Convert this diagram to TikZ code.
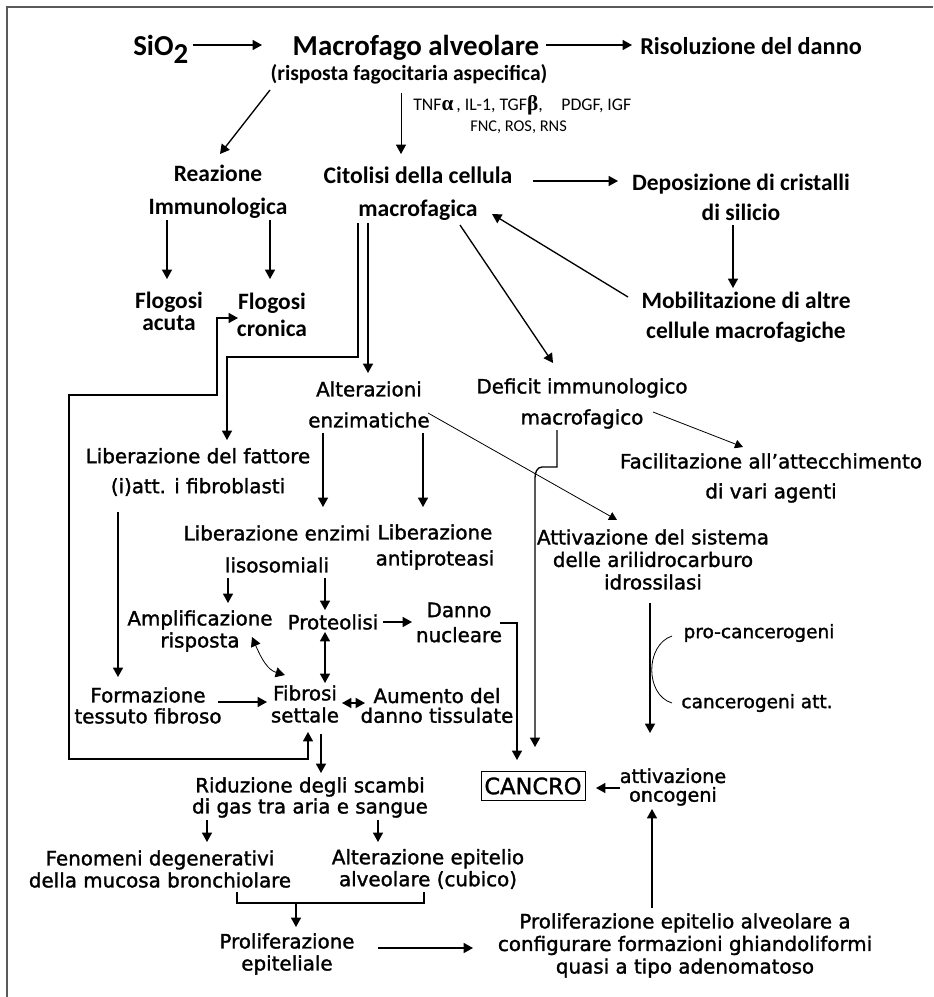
\documentclass[tikz,border=0pt]{standalone}
\usepackage{fontspec}
\setmainfont{DejaVu Sans}[FakeBold=1.5]
\newfontfamily\calf{Carlito}
\newfontfamily\grkf{Liberation Serif}
\usetikzlibrary{arrows.meta}
\begin{document}
\begin{tikzpicture}[x=0.75pt,y=-0.75pt,
  T/.style 2 args={font=\calf\bfseries\fontsize{#1}{#2}\selectfont,align=center,inner sep=0pt},
  L/.style 2 args={font=\fontsize{#1}{#2}\selectfont,align=center,inner sep=0pt},
  S/.style={font=\calf\fontsize{12.3}{12.3}\selectfont,inner sep=0pt},
  arr/.style={line width=1pt,-{Triangle[width=7.5pt,length=7pt]}},
  darr/.style={line width=1pt,{Triangle[width=7.5pt,length=7pt]}-{Triangle[width=7.5pt,length=7pt]}},
  tarr/.style={line width=0.6pt,-{Triangle[width=6.5pt,length=6pt]}},
  ln/.style={line width=1pt},
  tln/.style={line width=0.6pt}]
\useasboundingbox (0,0) rectangle (933,997);
\draw[line width=1.5pt,black!65] (7,997) -- (7,7) -- (933,7);

% top part
\node[T={21.7}{26},anchor=base west] (sio) at (133,55) {SiO\raisebox{-0.3em}{2}};
\node[T={21.7}{26},anchor=base] (mac) at (416,55) {Macrofago alveolare};
\node[T={18.2}{22},anchor=base] (ris) at (751,54) {Risoluzione del danno};
\node[T={16.2}{20}] (risp) at (409,74) {(risposta fagocitaria aspecifica)};
\node[S,font=\calf\fontsize{13.3}{13.3}\selectfont,anchor=west] (tnf) at (413,105) {TNF{\grkf\bfseries\fontsize{16}{16}\selectfont α}\,, IL-1, TGF{\grkf\bfseries\fontsize{16}{16}\selectfont β},\hspace{14pt}PDGF, IGF};
\node[S,anchor=west] (fnc) at (470,127) {FNC, ROS, RNS};

\node[T={17.6}{24.75}] (rea) at (218,191.5) {Reazione\\Immunologica};
\node[T={17.8}{24.75}] (cit) at (418,193.5) {Citolisi della cellula\\macrofagica};
\node[T={17.6}{22.5}] (dep) at (741,197) {Deposizione di cristalli\\di silicio};
\node[T={17.6}{22.5}] (mob) at (746,317) {Mobilitazione di altre\\cellule macrofagiche};
\node[T={17.6}{16.5}] (fac) at (169,311) {Flogosi\\acuta};
\node[T={17.6}{20.25}] (fcr) at (272,315) {Flogosi\\cronica};

% lower part
\node[L={14.9}{23.25}] (alt) at (369,404.5) {Alterazioni\\enzimatiche};
\node[L={14.9}{23.25}] (def) at (582,403.5) {Deficit immunologico\\macrofagico};
\node[L={14.9}{22.5}] (fcl) at (771,478) {Facilitazione all’attecchimento\\di vari agenti};
\node[L={14.9}{22.5}] (lib) at (198,472) {Liberazione del fattore\\(i)att. i fibroblasti};
\node[L={14.9}{24}] (lie) at (277,549) {Liberazione enzimi\\lisosomiali};
\node[L={14.9}{19.5}] (lia) at (435,547) {Liberazione\\antiproteasi};
\node[L={14.9}{16.9}] (att) at (653,559.5) {Attivazione del sistema\\delle arilidrocarburo\\idrossilasi};
\node[L={14.9}{16.5}] (amp) at (200,631) {Amplificazione\\risposta};
\node[L={14.9}{16.5}] (pro) at (333,622) {Proteolisi};
\node[L={14.9}{18.75}] (dan) at (459,622.5) {Danno\\nucleare};
\node[L={13.9}{16}] (pcg) at (759,633) {pro-cancerogeni};
\node[L={13.9}{16}] (cga) at (757,703) {cancerogeni att.};
\node[L={14.9}{15.75}] (for) at (148,705.5) {Formazione\\tessuto fibroso};
\node[L={14.9}{16.5}] (fib) at (305,704) {Fibrosi\\settale};
\node[L={14.9}{14.8}] (aum) at (437,705.5) {Aumento del\\danno tissulate};
\node[L={14.9}{15.75}] (rid) at (310,797.5) {Riduzione degli scambi\\di gas tra aria e sangue};
\node[L={16.9}{18},draw,line width=0.6pt,inner xsep=2.6pt,inner ysep=4.4pt] (can) at (533,786) {CANCRO};
\node[L={14.4}{14}] (onc) at (673,787) {attivazione\\oncogeni};
\node[L={14.9}{16.5}] (fen) at (160,869) {Fenomeni degenerativi\\della mucosa bronchiolare};
\node[L={14.9}{16.5}] (ale) at (428,869) {Alterazione epitelio\\alveolare (cubico)};
\node[L={14.9}{16.5}] (pre) at (287,954) {Proliferazione\\epiteliale};
\node[L={14.9}{16.9}] (pea) at (685,945.5) {Proliferazione epitelio alveolare a\\configurare formazioni ghiandoliformi\\quasi a tipo adenomatoso};

% connectors top
\draw[arr] (193,45) -- (262,45);
\draw[arr] (546,45) -- (632,45);
\draw[arr] (270,90) -- (220,154);
\draw[tln,-{Triangle[width=7.5pt,length=7pt]}] (401,93) -- (401,154);
\draw[arr] (167,220) -- (167,279);
\draw[arr] (270,220) -- (270,279);
\draw[arr] (533,181) -- (618,181);
\draw[arr] (733,225) -- (733,288);
\draw[arr] (628,297) -- (492,214);
\draw[arr] (460,225) -- (553,363);
% double lines from macrofagica
\draw[arr] (358,223) -- (358,357) -- (227,357) -- (227,440);
\draw[arr] (368,223) -- (368,373);
% loop Flogosi cronica <-> Fibrosi settale
\draw[darr] (238,318) -- (217,318) -- (217,395) -- (69,395) -- (69,759) -- (308,759) -- (308,732);
% alterazioni
\draw[arr] (323,433) -- (323,507);
\draw[arr] (423,433) -- (423,507);
\draw[tarr] (428,413) -- (617,520);
% deficit
\draw[tarr] (653,412) -- (743,447);
\draw[arr] (557,430) -- (557,467) -- (542,467) to[out=180,in=90] (535,478) -- (535,747);
% liberazione
\draw[arr] (118,512) -- (118,677);
\draw[arr] (228,578) -- (228,603);
\draw[arr] (325,578) -- (325,610);
\draw[darr] (325,632) -- (325,683);
\draw[line width=0.6pt,{Triangle[width=7.5pt,length=7pt]}-{Triangle[width=7.5pt,length=7pt]}] (252,637) .. controls (262,660) and (268,670) .. (285,675);
\draw[arr] (383,622) -- (412,622);
\draw[arr] (500,623) -- (517,623) -- (517,760);
\draw[arr] (218,702) -- (267,702);
\draw[darr] (342,703) -- (365,703);
\draw[arr] (321,734) -- (321,773);
% arilidrocarburo
\draw[arr] (650,603) -- (650,733);
\draw[tln] (672,636) .. controls (645,645) and (645,695) .. (672,703);
\draw[arr] (620,788) -- (596,788);
\draw[arr] (652,908) -- (652,809);
% bottom
\draw[arr] (207,820) -- (207,842);
\draw[arr] (378,820) -- (378,842);
\draw[ln] (237,892) -- (237,903) -- (424,903) -- (424,892);
\draw[arr] (296,903) -- (296,927);
\draw[arr] (378,948) -- (473,948);
\end{tikzpicture}
\end{document}
